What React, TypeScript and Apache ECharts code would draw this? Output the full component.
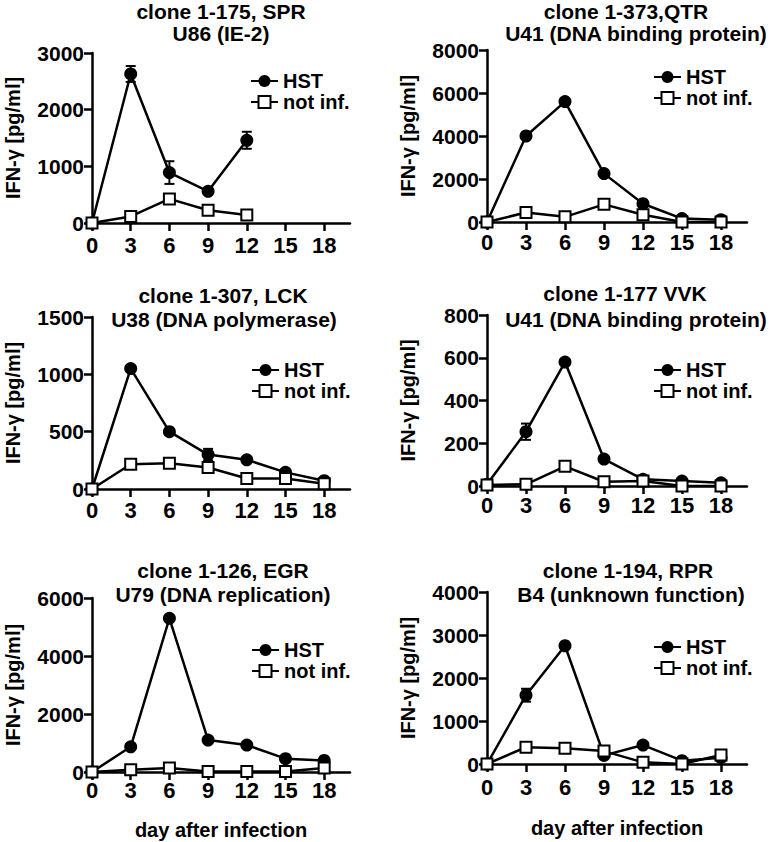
import React, { useEffect, useRef } from "react";
import * as echarts from "echarts";

const FONT = "'Liberation Sans', Arial, sans-serif";

const days = [0, 3, 6, 9, 12, 15, 18];
const xTickValues = [0, 3, 6, 9, 12, 15, 18];
const xMax = 20;

const titleLines = [
  ["clone 1-175, SPR", "U86 (IE-2)"],
  ["clone 1-373,QTR", "U41 (DNA binding protein)"],
  ["clone 1-307, LCK", "U38 (DNA polymerase)"],
  ["clone 1-177 VVK", "U41 (DNA binding protein)"],
  ["clone 1-126, EGR", "U79 (DNA replication)"],
  ["clone 1-194, RPR", "B4 (unknown function)"],
];

const yMaxes = [3000, 8000, 1500, 800, 6000, 4000];
const yIntervals = [1000, 2000, 500, 200, 2000, 1000];

// HST (infected) values per panel
const hst1 = [0, 2630, 890, 560, 1460];
const hst2 = [0, 4000, 5600, 2250, 850, 160, 110];
const hst3 = [0, 1050, 500, 300, 255, 145, 72];
const hst4 = [8, 254, 580, 126, 31, 23, 15];
const hst5 = [0, 870, 5300, 1100, 930, 460, 400];
const hst6 = [0, 1600, 2750, 200, 440, 77, 146];

// HST error (SD) per panel
const hst1Err = [0, 140, 200, 30, 150];
const hst2Err = [0, 0, 0, 0, 0, 0, 0];
const hst3Err = [0, 0, 0, 50, 0, 0, 0];
const hst4Err = [0, 38, 0, 0, 0, 0, 0];
const hst5Err = [0, 0, 0, 0, 0, 0, 0];
const hst6Err = [0, 150, 0, 0, 0, 0, 0];

// not infected values per panel
const notInf1 = [0, 115, 425, 225, 140];
const notInf2 = [0, 440, 240, 820, 340, 0, 0];
const notInf3 = [0, 216, 225, 187, 92, 92, 45];
const notInf4 = [5, 8, 92, 20, 23, 0, 0];
const notInf5 = [0, 80, 140, 20, 20, 20, 140];
const notInf6 = [0, 390, 365, 300, 38, 0, 208];

const hstAll = [hst1, hst2, hst3, hst4, hst5, hst6];
const hstErrAll = [hst1Err, hst2Err, hst3Err, hst4Err, hst5Err, hst6Err];
const notInfAll = [notInf1, notInf2, notInf3, notInf4, notInf5, notInf6];

const grids = [
  { left: 92, top: 53, width: 258, height: 170 },
  { left: 487, top: 50, width: 260, height: 172 },
  { left: 92, top: 317, width: 258, height: 172 },
  { left: 487, top: 315, width: 260, height: 171 },
  { left: 92, top: 598, width: 258, height: 174 },
  { left: 487, top: 592, width: 260, height: 172 },
];

const titlePos = [
  [[221, 11], [221, 33]],
  [[626, 11], [636, 33]],
  [[223, 295], [224, 319]],
  [[625, 293], [636, 319]],
  [[223, 570], [223, 594]],
  [[628, 570], [631, 594]],
];

const legendPos = [
  [250, 71],
  [653, 67],
  [251, 360],
  [653, 360],
  [251, 640],
  [653, 637],
];

const xLabelMargin = [11, 9, 10, 8, 7, 12];

export default function App() {
  const ref = useRef<HTMLDivElement>(null);

  useEffect(() => {
    if (!ref.current) return;
    const chart = echarts.init(ref.current, undefined, { renderer: "svg" });

    const axisLine = { show: true, onZero: false, lineStyle: { color: "#000", width: 2.5 } };
    const axisTick = { show: true, length: 8, inside: false, lineStyle: { color: "#000", width: 2.5 } };
    const labelStyle = { color: "#000", fontSize: 20, fontWeight: "bold" as const, fontFamily: FONT };
    const fmt = (v: number) => String(v);

    const xAxis = grids.map((_, i) => ({
      type: "value",
      gridIndex: i,
      min: 0,
      max: xMax,
      axisLine,
      axisTick: { ...axisTick, customValues: xTickValues },
      axisLabel: {
        color: "#000",
        fontSize: 22,
        fontWeight: "bold",
        fontFamily: FONT,
        margin: xLabelMargin[i],
        customValues: xTickValues,
        formatter: fmt,
      },
      splitLine: { show: false },
      name: i >= 4 ? "day after infection" : "",
      nameLocation: "middle",
      nameGap: i === 4 ? 48 : 54,
      nameTextStyle: { ...labelStyle },
    }));

    const yAxis = grids.map((_, i) => ({
      type: "value",
      gridIndex: i,
      min: 0,
      max: yMaxes[i],
      interval: yIntervals[i],
      axisLine,
      axisTick,
      axisLabel: { color: "#000", fontSize: 21, fontWeight: "bold", fontFamily: FONT, margin: 8, formatter: fmt },
      splitLine: { show: false },
      name: "IFN-γ [pg/ml]",
      nameLocation: "middle",
      nameRotate: 90,
      nameGap: 69,
      nameTextStyle: { ...labelStyle },
    }));

    const series: any[] = [];
    grids.forEach((_, i) => {
      const hst = hstAll[i];
      const err = hstErrAll[i];
      const ni = notInfAll[i];
      series.push({
        type: "custom",
        xAxisIndex: i,
        yAxisIndex: i,
        z: 1,
        silent: true,
        data: hst
          .map((v, k) => [days[k], v - err[k], v + err[k]])
          .filter((_, k) => err[k] > 0),
        encode: { x: 0, y: [1, 2] },
        renderItem: (params: any, api: any) => {
          const x = api.value(0);
          const top = api.coord([x, api.value(2)]);
          const bot = api.coord([x, api.value(1)]);
          const w = 5;
          const st = { stroke: "#000", lineWidth: 2 };
          return {
            type: "group",
            children: [
              { type: "line", shape: { x1: top[0], y1: top[1], x2: bot[0], y2: bot[1] }, style: st },
              { type: "line", shape: { x1: top[0] - w, y1: top[1], x2: top[0] + w, y2: top[1] }, style: st },
              { type: "line", shape: { x1: bot[0] - w, y1: bot[1], x2: bot[0] + w, y2: bot[1] }, style: st },
            ],
          };
        },
      });
      series.push({
        type: "line",
        name: "HST",
        xAxisIndex: i,
        yAxisIndex: i,
        data: hst.map((v, k) => [days[k], v]),
        symbol: "circle",
        symbolSize: 13,
        showAllSymbol: true,
        lineStyle: { color: "#000", width: 2.5 },
        itemStyle: { color: "#000", borderColor: "#000", borderWidth: 0 },
        z: 2,
      });
      series.push({
        type: "line",
        name: "not inf.",
        xAxisIndex: i,
        yAxisIndex: i,
        data: ni.map((v, k) => [days[k], v]),
        symbol: "rect",
        symbolSize: 11,
        showAllSymbol: true,
        lineStyle: { color: "#000", width: 2.5 },
        itemStyle: { color: "#fff", borderColor: "#000", borderWidth: 2 },
        z: 3,
      });
    });

    const legend = legendPos.map(([l, t]) => ({
      left: l,
      top: t,
      orient: "vertical",
      data: ["HST", "not inf."],
      itemWidth: 27,
      itemHeight: 15,
      itemGap: 1,
      padding: 0,
      selectedMode: false,
      textStyle: { color: "#000", fontSize: 20, fontWeight: "bold", fontFamily: FONT, padding: [0, 0, 0, 0] },
    }));

    const graphic: any[] = [];
    titleLines.forEach((lines, i) => {
      lines.forEach((text, j) => {
        const [x, y] = titlePos[i][j];
        graphic.push({
          type: "text",
          x,
          y,
          style: {
            text,
            fill: "#000",
            font: `bold 21px ${FONT}`,
            textAlign: "center",
            textVerticalAlign: "middle",
          },
        });
      });
    });

    chart.setOption({
      animation: false,
      backgroundColor: "#fff",
      grid: grids.map((g) => ({ ...g, containLabel: false })),
      xAxis,
      yAxis,
      series,
      legend,
      graphic,
    });

    return () => chart.dispose();
  }, []);

  return (
    <div
      ref={ref}
      style={{ position: "absolute", left: 0, top: 0, width: 772, height: 842, background: "#fff" }}
    />
  );
}
